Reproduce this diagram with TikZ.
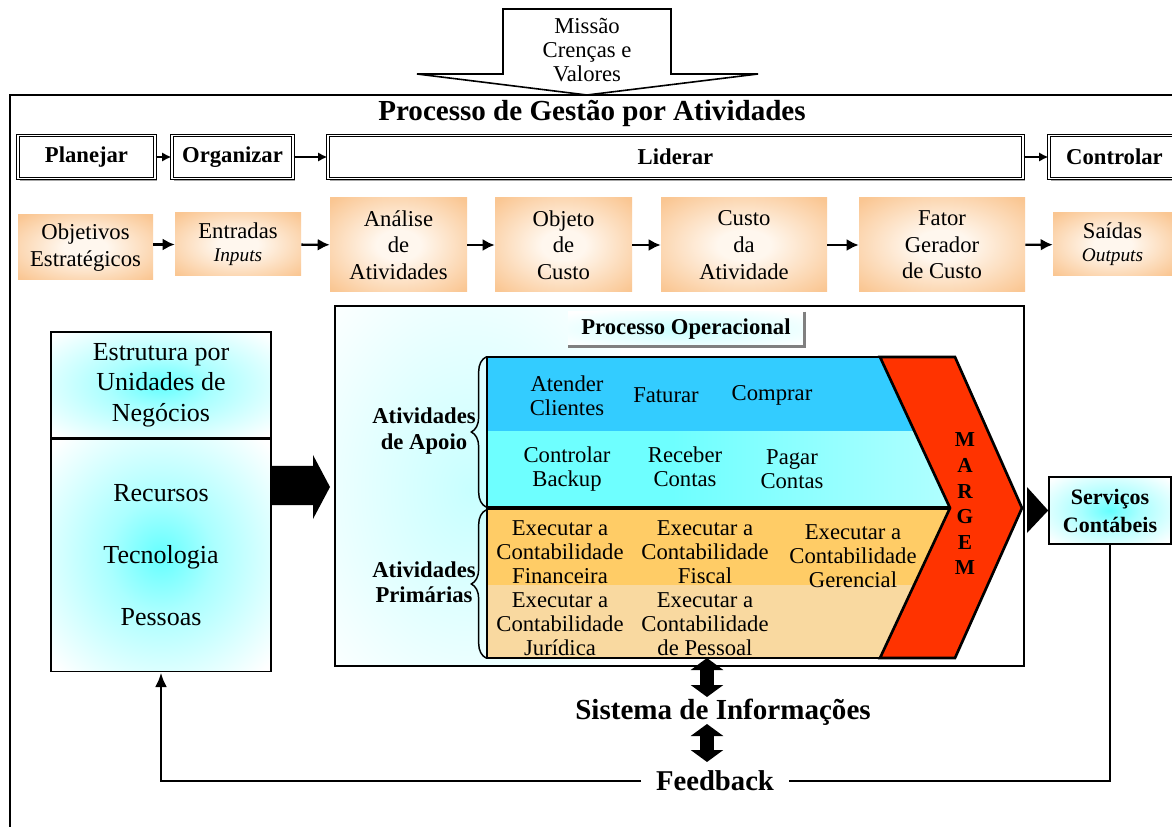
\documentclass[tikz,border=0pt]{standalone}
\usepackage{fontspec}
\setmainfont{Liberation Serif}
\usetikzlibrary{arrows.meta,decorations.pathreplacing,shadows}

% palette
\definecolor{peach}{RGB}{250,198,146}
\definecolor{peachlt}{RGB}{255,247,238}
\definecolor{bandblue}{RGB}{51,204,255}
\definecolor{bandcyanA}{RGB}{205,255,255}
\definecolor{bandcyanB}{RGB}{110,255,255}
\definecolor{bandcyanC}{RGB}{232,255,255}
\definecolor{bandorange}{RGB}{255,204,102}
\definecolor{bandsand}{RGB}{249,217,160}
\definecolor{margemred}{RGB}{255,51,0}
\definecolor{glowcyan}{RGB}{100,255,255}
\definecolor{glowmid}{RGB}{170,255,255}
\definecolor{glowsoft}{RGB}{200,255,255}
\definecolor{shadowgray}{RGB}{128,128,128}

% soft glows used as box fills
\pgfdeclareradialshading{peachglow}{\pgfpoint{0bp}{0bp}}{color(0bp)=(peachlt); color(8bp)=(peachlt); color(34bp)=(peach); color(50bp)=(peach)}
\pgfdeclareradialshading{cyanglow}{\pgfpoint{0bp}{0bp}}{color(0bp)=(glowcyan); color(12bp)=(glowmid); color(34bp)=(white); color(50bp)=(white)}
\pgfdeclareradialshading{softglow}{\pgfpoint{0bp}{0bp}}{color(0bp)=(glowsoft); color(34bp)=(white); color(50bp)=(white)}
\pgfdeclarehorizontalshading{cyanband}{100bp}{color(0bp)=(bandcyanA); color(22bp)=(bandcyanB); color(45bp)=(bandcyanB); color(100bp)=(bandcyanC)}

\tikzset{
  wh/.style 2 args={minimum width=#1*0.75pt, minimum height=#2*0.75pt},
  topbox/.style={draw, line width=0.9pt, double=white, double distance=0.9pt, fill=white,
    general shadow={fill=shadowgray!70, shadow xshift=1.6pt, shadow yshift=-1.6pt},
    font=\bfseries\fontsize{17}{20}\selectfont, inner sep=0pt},
  peachbox/.style={shade, shading=peachglow, align=center, inner sep=0pt,
    font=\fontsize{17}{20}\selectfont},
  bandtext/.style={align=center, inner sep=0pt, font=\fontsize{17}{17.8}\selectfont},
  sidelabel/.style={align=center, inner sep=0pt, font=\bfseries\fontsize{17}{19}\selectfont},
  smallarr/.style={line width=1.3pt, -{Latex[length=7pt,width=7pt]}},
  peacharr/.style={line width=1.8pt, -{Latex[length=9pt,width=9pt]}},
  fatdbl/.style={line width=10.5pt, {Triangle[length=9pt,width=24pt]}-{Triangle[length=9pt,width=24pt]}},
  bracestyle/.style={line width=1.1pt, decorate, decoration={brace, amplitude=11pt}},
}

\begin{document}
\begin{tikzpicture}[x=0.75pt,y=-0.75pt]
\useasboundingbox (0,0) rectangle (1172,827);
\clip (0,0) rectangle (1172,827);
\fill[white] (0,0) rectangle (1172,827);

% outer frame of the management process
\draw[line width=1.5pt] (10,840) -- (10,95) -- (1185,95);

% mission block arrow
\draw[line width=1.2pt, fill=white, line join=miter]
  (503,9) -- (671,9) -- (671,74) -- (758,74) -- (587,95) -- (417,74) -- (503,74) -- cycle;
\node[align=center, inner sep=0pt, font=\fontsize{17}{18}\selectfont] (missao) at (587,50)
  {Missão\\Crenças e\\Valores};

% title
\node[inner sep=0pt, font=\bfseries\fontsize{21.8}{24}\selectfont] (titulo) at (592,113)
  {Processo de Gestão por Atividades};

% management functions
\node[topbox, wh={137}{43}] (plan) at (86.5,157) {Planejar};
\node[topbox, wh={121}{43}] (org)  at (232.5,157) {Organizar};
\node[topbox, wh={695}{43}] (lid)  at (675.5,157) {Liderar};
\node[topbox, wh={131}{43}] (ctl)  at (1114.5,157) {Controlar};
\draw[smallarr] (plan) -- (org);
\draw[smallarr] (org) -- (lid);
\draw[smallarr] (lid) -- (ctl);

% activity-based costing chain
\node[peachbox, wh={135}{65}]  (obj)  at (85.5,247.5) {Objetivos\\Estratégicos};
\node[peachbox, wh={126}{63}]  (ent)  at (238,244.5) {Entradas\\[-3pt]{\itshape\fontsize{14.5}{17}\selectfont Inputs}};
\node[peachbox, wh={137}{94}]  (ana)  at (398.5,245) {Análise\\de\\Atividades};
\node[peachbox, wh={137}{94}]  (objc) at (563.5,245) {Objeto\\de\\Custo};
\node[peachbox, wh={166}{94}]  (cus)  at (744,245) {Custo\\da\\Atividade};
\node[peachbox, wh={166}{94}]  (fat)  at (942,245) {Fator\\Gerador\\de Custo};
\node[peachbox, wh={119}{63}]  (sai)  at (1112.5,244.5) {Saídas\\[-3pt]{\itshape\fontsize{14.5}{17}\selectfont Outputs}};
\draw[peacharr] (obj.east |- ent) -- (ent.west);
\draw[peacharr] (ent) -- (ana);
\draw[peacharr] (ana) -- (objc);
\draw[peacharr] (objc) -- (cus);
\draw[peacharr] (cus) -- (fat);
\draw[peacharr] (fat) -- (sai);

% business unit structure
\node[draw, line width=1.2pt, shade, shading=cyanglow, wh={220}{106}, align=center, inner sep=0pt,
  font=\fontsize{19.5}{23}\selectfont] (lbtop) at (161,385) {Estrutura por\\Unidades de\\Negócios};
\node[draw, line width=1.2pt, shade, shading=cyanglow, wh={220}{232}, anchor=north, align=center, inner sep=0pt,
  font=\fontsize{19.5}{46.5}\selectfont] (lbbot) at (lbtop.south) {Recursos\\Tecnologia\\Pessoas};

% operational process frame
\node[fill=white, wh={689}{360}, inner sep=0pt] (po) at (679.5,486) {};
\begin{scope}
  \clip (po.north west) rectangle (po.south east);
  \shade[shading=softglow] (320,290) rectangle (620,690);
\end{scope}
\draw[line width=1.2pt] (po.north west) rectangle (po.south east);

% block arrow from the structure into the process
\fill (271,466) -- (313,466) -- (313,455) -- (330,487) -- (313,519) -- (313,505) -- (271,505) -- cycle;

% process label with its shadow edge
\node[shade, shading=softglow, wh={236}{34}, inner sep=0pt,
  font=\bfseries\fontsize{17}{20}\selectfont] (pol) at (686,329) {Processo Operacional};
\draw[shadowgray, line width=2.2pt] (pol.north east) -- (pol.south east) -- (pol.south west);

% activity bands
\fill[bandblue] (487,357) rectangle (950,432);
\shade[shading=cyanband] (487,432) rectangle (950,508);
\fill[bandorange] (487,508) rectangle (950,585);
\fill[bandsand] (487,585) rectangle (950,658);
\draw[line width=1.1pt] (880,357) -- (487,357) -- (487,658) -- (880,658);
\draw[line width=3pt] (487,508) -- (950,508);

% margin chevron
\draw[line width=2pt, fill=margemred, line join=miter]
  (880,357) -- (955,357) -- (1022,508) -- (955,658) -- (880,658) -- (950,508) -- cycle;
\node[align=center, inner sep=0pt, font=\bfseries\fontsize{16}{19.2}\selectfont] (margem) at (965,504)
  {M\\A\\R\\G\\E\\M};

% support activities
\node[bandtext] (atender)  at (567,396) {Atender\\Clientes};
\node[bandtext] (faturar)  at (666,395) {Faturar};
\node[bandtext] (comprar)  at (772,395) {Comprar};
\node[bandtext] (backup)   at (567,469) {Controlar\\Backup};
\node[bandtext] (receber)  at (685,467) {Receber\\Contas};
\node[bandtext] (pagar)    at (792,469.5) {Pagar\\Contas};

% primary activities
\node[bandtext] (cfin) at (560,552) {Executar a\\Contabilidade\\Financeira};
\node[bandtext] (cfis) at (705,552) {Executar a\\Contabilidade\\Fiscal};
\node[bandtext] (cger) at (853,556) {Executar a\\Contabilidade\\Gerencial};
\node[bandtext] (cjur) at (560,624) {Executar a\\Contabilidade\\Jurídica};
\node[bandtext] (cpes) at (705,624) {Executar a\\Contabilidade\\de Pessoal};

% braces and group labels
\draw[bracestyle] (486,507) -- (486,357);
\draw[bracestyle] (486,658) -- (486,510);
\node[sidelabel] (apoio) at (424,431) {Atividades\\de Apoio};
\node[sidelabel] (prim)  at (424,582) {Atividades\\Primárias};

% accounting services output
\node[draw, line width=1.2pt, shade, shading=cyanglow, wh={122}{67}, align=center, inner sep=0pt,
  font=\bfseries\fontsize{16.5}{21}\selectfont] (serv) at (1110,510.5) {Serviços\\Contábeis};
\fill (1027,487) -- (serv.west) -- (1027,533) -- cycle;

% information system and feedback
\node[inner sep=0pt, font=\bfseries\fontsize{21.8}{24}\selectfont] (sist) at (723,712) {Sistema de Informações};
\node[inner xsep=11pt, inner ysep=0pt, font=\bfseries\fontsize{21.5}{24}\selectfont] (fb) at (715,781) {Feedback};
\coordinate (sa) at (707,658);
\coordinate (sb) at (707,697);
\coordinate (sc) at (707,724);
\coordinate (sd) at (707,762);
\draw[fatdbl] (sa) -- (sb);
\draw[fatdbl] (sc) -- (sd);

\draw[line width=1.8pt] (serv.south) |- (fb.east);
\draw[line width=2.2pt, -{Latex[length=11pt,width=9pt]}] (fb.west) -| (lbbot.south);
\end{tikzpicture}
\end{document}
